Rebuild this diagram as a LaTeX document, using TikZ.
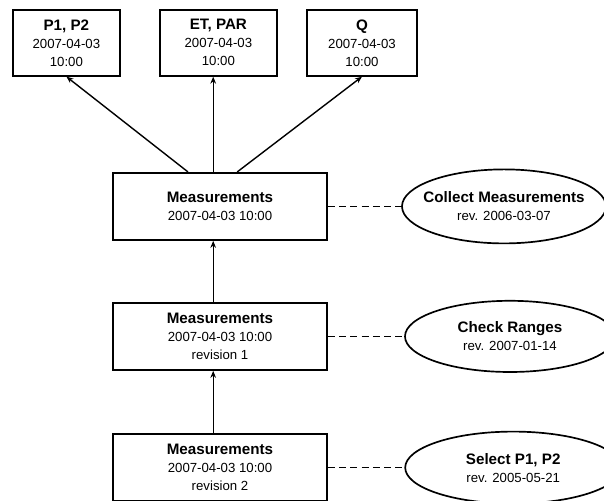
\documentclass[tikz,border=0pt]{standalone}
\usepackage{fontspec}
\setmainfont{Liberation Sans}
\usetikzlibrary{arrows.meta,shapes.geometric}

\newcommand{\boxtitle}[1]{{\fontsize{10.8}{12.8}\selectfont\bfseries #1}}

\begin{document}
\begin{tikzpicture}[
	font = \fontsize{9.4}{12.8}\selectfont,
	databox/.style = {draw = black, line width = 1.2pt, align = center, inner sep = 0pt, minimum height = 1.68cm},
	procell/.style = {ellipse, draw = black, line width = 1.2pt, align = center, inner xsep = -0.3cm, inner ysep = 0pt},
	link/.style = {-{Stealth[length = 5pt, width = 4pt]}, line width = 1pt},
	tie/.style = {line width = 1.1pt, dash pattern = on 5pt off 3pt}
	]
	\useasboundingbox (0, 0) rectangle (15.1, 12.5);
	
	% outputs
	\node [databox, minimum width = 2.68cm, minimum height = 1.65cm] (pp) at (1.66, 11.43) {\boxtitle{P1, P2}\\2007-04-03\\10:00};
	\node [databox, minimum width = 2.93cm, minimum height = 1.65cm] (et) at (5.46, 11.43) {\boxtitle{ET, PAR}\\2007-04-03\\10:00};
	\node [databox, minimum width = 2.75cm, minimum height = 1.65cm] (q) at (9.05, 11.43) {\boxtitle{Q}\\2007-04-03\\10:00};
	
	% measurements
	\node [databox, minimum width = 5.35cm] (m1) at (5.5, 7.34) {\boxtitle{Measurements}\\2007-04-03 10:00};
	\node [databox, minimum width = 5.35cm] (m2) at (5.5, 4.09) {\boxtitle{Measurements}\\2007-04-03 10:00\\revision 1};
	\node [databox, minimum width = 5.35cm] (m3) at (5.5, 0.81) {\boxtitle{Measurements}\\2007-04-03 10:00\\revision 2};
	
	% processes
	\node [procell, minimum width = 5.1cm, minimum height = 1.85cm] (collect) at (12.6, 7.34) {\boxtitle{Collect Measurements}\\rev. 2006-03-07};
	\node [procell, minimum width = 5.25cm, minimum height = 1.78cm] (check) at (12.75, 4.09) {\boxtitle{Check Ranges}\\rev. 2007-01-14};
	\node [procell, minimum width = 5.4cm, minimum height = 1.8cm] (select) at (12.83, 0.81) {\boxtitle{Select P1, P2}\\rev. 2005-05-21};
	
	% arrows
	\draw [link] ([xshift = -0.8cm]m1.north) -- (pp.south);
	\draw [link] ([xshift = -0.17cm]m1.north) -- ([xshift = -0.17cm]m1.north |- et.south);
	\draw [link] ([xshift = 0.43cm]m1.north) -- (q.south);
	
	\draw [link] ([xshift = -0.17cm]m2.north) -- ([xshift = -0.17cm]m1.south);
	\draw [link] ([xshift = -0.17cm]m3.north) -- ([xshift = -0.17cm]m2.south);
	
	% dashed ties
	\draw [tie] (m1.east) -- (collect.west);
	\draw [tie] (m2.east) -- (check.west);
	\draw [tie] (m3.east) -- (select.west);
\end{tikzpicture}
\end{document}
